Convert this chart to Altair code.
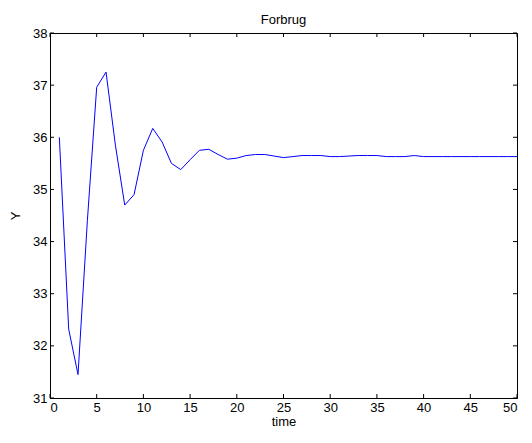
import altair as alt
import pandas as pd

time = list(range(1, 51))
forbrug = [36.00, 32.32, 31.45, 34.40, 36.96, 37.25, 35.85, 34.70, 34.90, 35.75,
           36.17, 35.91, 35.50, 35.38, 35.57, 35.75, 35.77, 35.67, 35.58, 35.60,
           35.65, 35.67, 35.67, 35.64, 35.61, 35.63, 35.65, 35.65, 35.65, 35.63,
           35.63, 35.64, 35.65, 35.65, 35.65, 35.63, 35.63, 35.63, 35.65, 35.63,
           35.63, 35.63, 35.63, 35.63, 35.63, 35.63, 35.63, 35.63, 35.63, 35.63]
x_ticks = list(range(0, 51, 5))
y_ticks = list(range(31, 39))

W, H = 467, 365
FONT = "Liberation Sans"

df = pd.DataFrame({"time": time, "Y": forbrug})
xt = pd.DataFrame({"time": x_ticks})
yt = pd.DataFrame({"Y": y_ticks})

xs = alt.Scale(domain=[0, 50], nice=False, zero=False)
ys = alt.Scale(domain=[31, 38], nice=False, zero=False)

xaxis = alt.Axis(values=x_ticks, format="d", tickSize=0, labelPadding=3, titlePadding=1,
                 domainColor="black", labelColor="black", titleColor="black",
                 labelFontSize=13, titleFontSize=13, labelFont=FONT, titleFont=FONT,
                 titleFontWeight="normal", grid=False)
yaxis = alt.Axis(values=y_ticks, format="d", tickSize=0, labelPadding=3, titlePadding=10,
                 domainColor="black", labelColor="black", titleColor="black",
                 labelFontSize=13, titleFontSize=13, labelFont=FONT, titleFont=FONT,
                 titleFontWeight="normal", grid=False)

line = alt.Chart(df).mark_line(color="#0000ff", strokeWidth=1).encode(
    x=alt.X("time:Q", scale=xs, title="time", axis=xaxis),
    y=alt.Y("Y:Q", scale=ys, title="Y", axis=yaxis),
)

tk = dict(color="black", strokeWidth=1)
bottom = alt.Chart(xt).mark_rule(**tk).encode(
    x=alt.X("time:Q", scale=xs, title="time"), y=alt.value(H), y2=alt.value(H - 4))
top = alt.Chart(xt).mark_rule(**tk).encode(
    x=alt.X("time:Q", scale=xs, title="time"), y=alt.value(0), y2=alt.value(4))
left = alt.Chart(yt).mark_rule(**tk).encode(
    y=alt.Y("Y:Q", scale=ys, title="Y"), x=alt.value(0), x2=alt.value(4))
right = alt.Chart(yt).mark_rule(**tk).encode(
    y=alt.Y("Y:Q", scale=ys, title="Y"), x=alt.value(W), x2=alt.value(W - 4))

chart = alt.layer(line, bottom, top, left, right).properties(
    width=W, height=H,
    title=alt.TitleParams("Forbrug", fontSize=13, font=FONT, fontWeight="normal",
                          color="black", offset=0),
    autosize=alt.AutoSizeParams(type="none"),
    padding={"left": 42, "top": 25, "right": 7, "bottom": 32},
    background="white",
).configure_view(stroke="black", strokeWidth=1)

chart.save("out.html", embed_options={"renderer": "svg", "actions": False})
